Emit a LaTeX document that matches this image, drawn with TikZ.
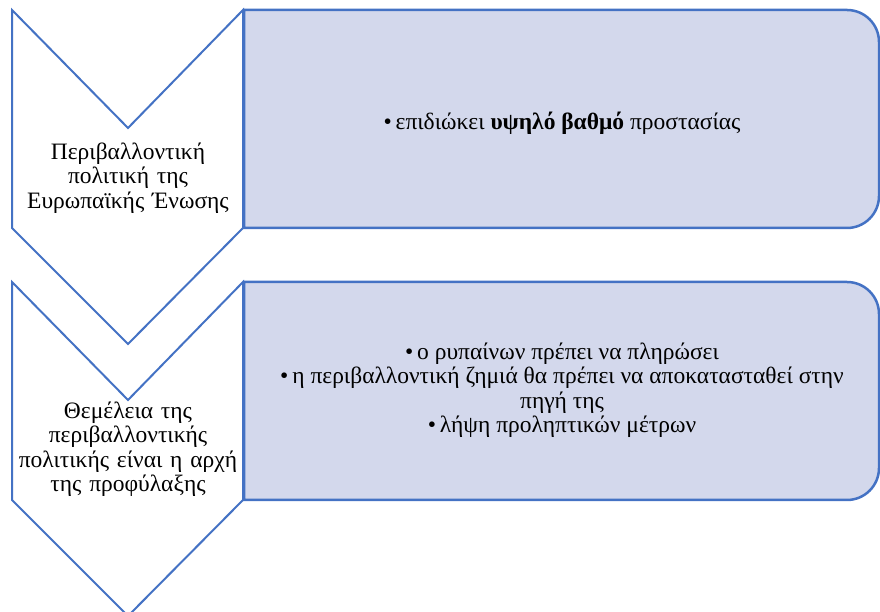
\documentclass[tikz,border=0pt]{standalone}
\usepackage{fontspec}
\setmainfont{Liberation Serif}
\definecolor{barblue}{HTML}{4472C4}
\definecolor{barfill}{HTML}{D3D8EC}

\begin{document}
\begin{tikzpicture}[x=1pt, y=1pt, font=\fontsize{23.5}{24.5}\selectfont,
    chevline/.style={barblue, line width=2pt, fill=white},
    barline/.style={barblue, line width=2.5pt, fill=barfill},
    lab/.style={align=center, text width=228pt}]
  \useasboundingbox (0,0) rectangle (880,612);
  \foreach \ytop in {602, 330}{%
    % box on the right, rounded on its right side only
    \draw[barline] (244,\ytop) -- (847,\ytop)
      arc[start angle=90, end angle=0, radius=32] -- (879,\ytop-186)
      arc[start angle=0, end angle=-90, radius=32] -- (244,\ytop-218) -- cycle;
    % chevron pointing down
    \draw[chevline] (12,\ytop) -- (128,\ytop-118) -- (243,\ytop)
      -- (243,\ytop-218) -- (128,\ytop-334) -- (12,\ytop-218) -- cycle;}
  \node[lab] (eupolicy) at (128,434)
    {Περιβαλλοντική\\ πολιτική της\\ Ευρωπαϊκής Ένωσης};
  \node[lab] (basis) at (128,163)
    {Θεμέλεια της\\ περιβαλλοντικής\\ πολιτικής είναι η αρχή\\ της προφύλαξης};
  \node (aim) at (562,489)
    {•\,επιδιώκει \textbf{υψηλό βαθμό} προστασίας};
  \node[align=center] (principles) at (562,222)
    {•\,ο ρυπαίνων πρέπει να πληρώσει\\
     •\,η περιβαλλοντική ζημιά θα πρέπει να αποκατασταθεί στην\\
     πηγή της\\
     •\,λήψη προληπτικών μέτρων};
\end{tikzpicture}
\end{document}
